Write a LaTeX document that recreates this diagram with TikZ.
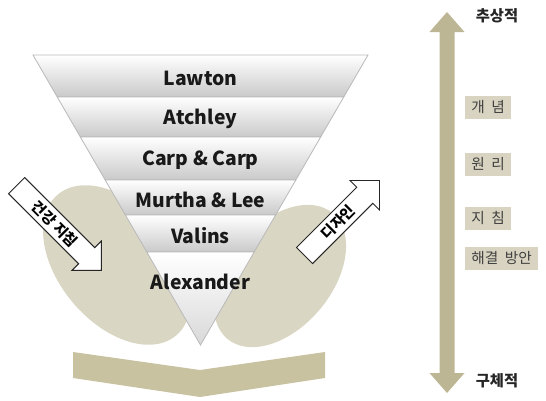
\documentclass[tikz,border=0pt]{standalone}
\usepackage{fontspec}
\setmainfont{Noto Sans CJK KR}
\usetikzlibrary{calc,positioning,shapes.arrows}
\definecolor{ellcol}{HTML}{DAD6C4}
\definecolor{chevcol}{HTML}{C9C2A1}
\definecolor{axiscol}{HTML}{BDB694}
\definecolor{boxcol}{HTML}{D8D4C1}
\def\px{0.75pt}
\def\fcx{200.5}

\begin{document}
\begin{tikzpicture}[x=0.75pt,y=-0.75pt,
    band/.style={top color=white, bottom color=gray!42, draw=gray!55, line width=0.6pt},
    lab/.style={font=\fontsize{14.5}{16}\selectfont\bfseries, text=black!90},
    bigarrow/.style={shape=single arrow, draw=black!85, fill=white, line width=0.7pt,
        single arrow tip angle=90, single arrow head extend=9.5*\px,
        inner xsep=3*\px, inner ysep=4*\px, font=\fontsize{11}{12}\selectfont\bfseries},
    levelbox/.style={fill=boxcol, text=black!75, inner xsep=6*\px, inner ysep=4*\px,
        minimum height=23*\px, anchor=west, font=\fontsize{11}{12}\selectfont},
    endlab/.style={font=\fontsize{11.5}{13}\selectfont\bfseries, text=black!85}]
\useasboundingbox (0,0) rectangle (546,400);

% Two tilted blobs behind the funnel
\fill[ellcol, rotate around={-50:(117,265)}] (117,265) ellipse [x radius=92, y radius=58];
\fill[ellcol, rotate around={50:(280,276)}] (280,276) ellipse [x radius=82, y radius=52];

% Chevron under the tip
\fill[chevcol] (73,352) -- (200,370) -- (325,352) -- (325,378) -- (200,397) -- (73,378) -- cycle;

% Funnel bands, from wide to narrow
\foreach \ya/\yb/\txt [count=\i] in {55/97/Lawton, 97/137/Atchley, 137/180/Carp \& Carp,
    180/215/Murtha \& Lee, 215/252/Valins}{
    \pgfmathsetmacro\wa{0.5776*(345-\ya)}
    \pgfmathsetmacro\wb{0.5776*(345-\yb)}
    \path[band] (\fcx-\wa,\ya) -- (\fcx+\wa,\ya) -- (\fcx+\wb,\yb) -- (\fcx-\wb,\yb) -- cycle;
    \node[lab] (lvl\i) at (\fcx,{(\ya+\yb)/2+2}) {\txt};
}
% last piece is the tip
\pgfmathsetmacro\wa{0.5776*(345-252)}
\path[band, top color=white, bottom color=gray!30] (\fcx-\wa,252) -- (\fcx+\wa,252) -- (\fcx,345) -- cycle;
\node[lab] (lvl6) at (\fcx,282) {Alexander};

% Side arrows
\node[bigarrow, rotate=-45, minimum height=120*\px] (health) at (55,224) {건강 지침};
\node[bigarrow, rotate=45, minimum height=106*\px] (design) at (338,222) {디자인};

% Vertical scale on the right
\fill[axiscol] (447,12) -- (464.5,32) -- (454.5,32) -- (454.5,373) -- (464.5,373)
    -- (447,393) -- (429.5,373) -- (439.5,373) -- (439.5,32) -- (429.5,32) -- cycle;
\node[endlab] (top) at (497,16) {추상적};
\node[endlab] (bottom) at (497,381) {구체적};
\node[levelbox] (concept) at (465,107.5) {개\ \ 념};
\node[levelbox] (principle) at (465,164.5) {원\ \ 리};
\node[levelbox] (guide) at (465,218) {지\ \ 침};
\node[levelbox] (solution) at (465,258.5) {해결\ \ 방안};
\end{tikzpicture}
\end{document}
